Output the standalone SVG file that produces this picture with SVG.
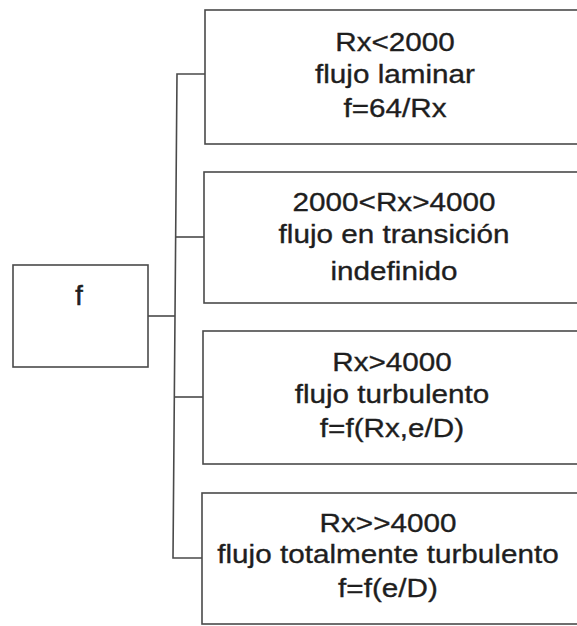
<svg xmlns="http://www.w3.org/2000/svg" width="577" height="626" viewBox="0 0 577 626">
<style>
.box{fill:#fff;stroke:#4a4a4a;stroke-width:1.6}
.con{fill:none;stroke:#4a4a4a;stroke-width:1.6}
.t{font-family:"Liberation Sans",Arial,sans-serif;font-size:26.5px;fill:#1e1e1e;stroke:#1e1e1e;stroke-width:0.35;text-anchor:middle}
</style>
<rect width="577" height="626" fill="#fff"/>
<g id="connectors">
<path class="con" d="M148 316 H175"/>
<path class="con" d="M205 74 H177 L173 558 H202"/>
<path class="con" d="M176 237 H204"/>
<path class="con" d="M174 397 H203"/>
</g>
<g id="node-f">
<rect class="box" x="13" y="265" width="135" height="102"/>
<text class="t" x="79" y="305" style="font-size:27px;stroke-width:0.6">f</text>
</g>
<g id="node-laminar">
<rect class="box" x="205" y="10" width="400" height="134"/>
<g transform="translate(395 0) scale(1.12 1)">
<text class="t" x="0" y="51">Rx&lt;2000</text>
<text class="t" x="0" y="83">flujo laminar</text>
<text class="t" x="0" y="117">f=64/Rx</text>
</g>
</g>
<g id="node-transicion">
<rect class="box" x="204" y="172" width="400" height="131"/>
<g transform="translate(394 0) scale(1.12 1)">
<text class="t" x="0" y="211">2000&lt;Rx&gt;4000</text>
<text class="t" x="0" y="243">flujo en transición</text>
<text class="t" x="0" y="280">indefinido</text>
</g>
</g>
<g id="node-turbulento">
<rect class="box" x="203" y="331" width="400" height="133"/>
<g transform="translate(392 0) scale(1.12 1)">
<text class="t" x="0" y="371">Rx&gt;4000</text>
<text class="t" x="0" y="403">flujo turbulento</text>
<text class="t" x="0" y="437">f=f(Rx,e/D)</text>
</g>
</g>
<g id="node-totalmente">
<rect class="box" x="202" y="493" width="400" height="131"/>
<g transform="translate(388 0) scale(1.12 1)">
<text class="t" x="0" y="532">Rx&gt;&gt;4000</text>
<text class="t" x="0" y="563">flujo totalmente turbulento</text>
<text class="t" x="0" y="597">f=f(e/D)</text>
</g>
</g>
</svg>
